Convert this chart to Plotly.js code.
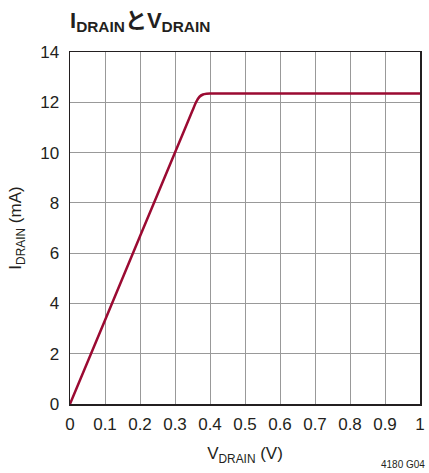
<!DOCTYPE html>
<html><head><meta charset="utf-8">
<script src="https://cdn.plot.ly/plotly-3.0.1.min.js"></script>
<style>body{margin:0;background:#fff}#c{width:429px;height:473px}</style>
</head><body><div id="c"></div>
<script>
var vDrain = [0, 0.1, 0.2, 0.3, 0.35, 0.36, 0.37, 0.38, 0.39, 0.4, 0.5, 0.6, 0.7, 0.8, 0.9, 1.0];
var iDrain = [0, 3.33, 6.67, 10.0, 11.67, 12.0, 12.22, 12.31, 12.34, 12.35, 12.35, 12.35, 12.35, 12.35, 12.35, 12.35];
var xTicks = [0, 0.1, 0.2, 0.3, 0.4, 0.5, 0.6, 0.7, 0.8, 0.9, 1];
var xTickText = ['0', '0.1', '0.2', '0.3', '0.4', '0.5', '0.6', '0.7', '0.8', '0.9', '1'];
var yTicks = [0, 2, 4, 6, 8, 10, 12, 14];

var font = "'Liberation Sans Narrow', 'Liberation Sans', Arial, sans-serif";
Plotly.newPlot('c', [{
  x: vDrain, y: iDrain, mode: 'lines', type: 'scatter',
  line: {color: '#9b0a32', width: 2.5, shape: 'spline', smoothing: 0.4},
  hoverinfo: 'none'
}], {
  width: 429, height: 473,
  margin: {l: 70, r: 9, t: 52, b: 69},
  paper_bgcolor: '#fff', plot_bgcolor: '#fff',
  showlegend: false,
  font: {family: "'Liberation Sans', Arial, sans-serif", color: '#231f20', size: 17},
  title: {text: '<b>I<sub>DRAIN</sub>とV<sub>DRAIN</sub></b>', x: 0, xref: 'paper', xanchor: 'left', y: 0.958, yanchor: 'middle',
    font: {family: font + ", 'Noto Sans CJK JP'", size: 22, color: '#231f20'}},
  xaxis: {range: [0, 1], tickvals: xTicks, ticktext: xTickText, showgrid: true, gridcolor: '#999', gridwidth: 1,
    zeroline: false, showline: true, linecolor: '#231f20', linewidth: 1.5, mirror: true, ticks: '',
    tickfont: {size: 17}, fixedrange: true, ticklabelstandoff: 4,
    title: {text: 'V<sub>DRAIN</sub> (V)', font: {size: 17}, standoff: 14}},
  yaxis: {range: [0, 14], tickvals: yTicks, showgrid: true, gridcolor: '#999', gridwidth: 1,
    zeroline: false, showline: true, linecolor: '#231f20', linewidth: 1.5, mirror: true, ticks: '',
    tickfont: {size: 17}, fixedrange: true, ticklabelstandoff: 6,
    title: {text: 'I<sub>DRAIN</sub> (mA)', font: {size: 17}, standoff: 14}},
  annotations: [{text: '4180 G04', xref: 'paper', yref: 'paper', x: 1.02, y: -0.15, xanchor: 'right', yanchor: 'top',
    showarrow: false, font: {family: font, size: 10, color: '#231f20'}}]
}, {displayModeBar: false, staticPlot: true});
</script></body></html>
